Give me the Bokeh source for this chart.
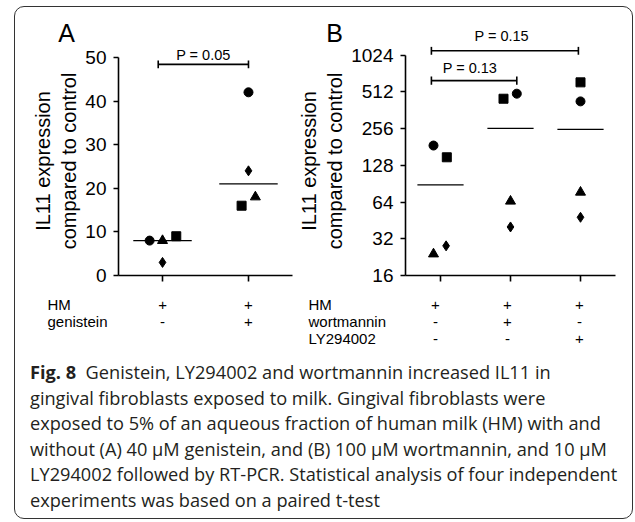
import numpy as np
from bokeh.plotting import figure
from bokeh.models import FixedTicker, NumeralTickFormatter, Div, Range1d, Spacer
from bokeh.layouts import row, column
from bokeh.core.properties import value
from bokeh.embed import file_html
from bokeh.resources import INLINE

# ---------------- data ----------------
# Panel A: IL11 expression (linear), groups: HM, HM + genistein
a_groups = [1, 2]
a_circle = [8, 42]
a_square = [9, 16]
a_triangle = [8, 18]
a_diamond = [3, 24]
a_yticks = [0, 10, 20, 30, 40, 50]
a_rows = ["HM", "genistein"]
a_signs = [["+", "+"], ["-", "+"]]
a_pvalue = "P = 0.05"

# Panel B: IL11 expression (log2), groups: HM, HM + wortmannin, HM + LY294002
b_groups = [1, 2, 3]
b_circle = [186, 495, 428]
b_square = [149, 450, 613]
b_triangle = [24, 65, 77]
b_diamond = [28, 40, 48]
b_yticks = [16, 32, 64, 128, 256, 512, 1024]
b_rows = ["HM", "wortmannin", "LY294002"]
b_signs = [["+", "+", "+"], ["-", "+", "-"], ["-", "-", "+"]]
b_pvalues = ["P = 0.13", "P = 0.15"]

caption_lines = [
    "Genistein, LY294002 and wortmannin increased IL11 in",
    "gingival fibroblasts exposed to milk. Gingival fibroblasts were",
    "exposed to 5% of an aqueous fraction of human milk (HM) with and",
    "without (A) 40 \u00b5M genistein, and (B) 100 \u00b5M wortmannin, and 10 \u00b5M",
    "LY294002 followed by RT-PCR. Statistical analysis of four independent",
    "experiments was based on a paired t-test",
]

# ---------------- style / layout ----------------
FONT = "Liberation Sans"
TICK_FS = "19px"
LABEL_FS = "20px"
ROW_FS = "15px"
P_FS = "14.5px"
MARKERS = [("circle", 9), ("square", 9), ("triangle", 10), ("diamond", 10)]
# horizontal jitter of the four experiments inside each group (group units)
A_JITTER = [[-0.15, 0.0], [0.16, -0.08], [0.0, 0.08], [0.0, 0.0]]
B_JITTER = [[-0.10, 0.09, 0.0], [0.09, -0.10, 0.0], [-0.10, 0.0, 0.0], [0.08, 0.0, 0.0]]

TOP_H = 39      # strip above the plot frame
MAIN_H = 251    # frame (229) + x-axis ticks (22)
BOT_H = 53      # strip with the treatment rows
MAIN_BOTTOM = 22


def clean(p):
    p.grid.visible = False
    p.outline_line_color = None
    p.border_fill_color = None
    p.background_fill_color = None


def style_axes(p):
    clean(p)
    for ax in (p.xaxis[0], p.yaxis[0]):
        ax.axis_line_width = 1.6
        ax.axis_line_color = "black"
        ax.major_tick_line_width = 1.6
        ax.major_tick_line_color = "black"
        ax.major_tick_out = 5
        ax.major_tick_in = 0
        ax.minor_tick_line_color = None
        ax.major_label_text_font = FONT
        ax.major_label_text_font_size = TICK_FS
        ax.major_label_text_color = "black"
        ax.axis_label_text_font = FONT
        ax.axis_label_text_font_size = LABEL_FS
        ax.axis_label_text_font_style = "normal"
        ax.axis_label_text_color = "black"
    p.xaxis.major_tick_out = 6
    p.xaxis.major_label_text_color = None
    p.xaxis.major_label_text_font_size = "8px"
    p.xaxis.major_label_standoff = 0
    p.yaxis.major_label_standoff = 7
    p.yaxis.axis_label_standoff = 2
    p.yaxis.axis_label = "IL11 expression\ncompared to control"


def strip(width, height, xr):
    s = figure(width=width, height=height, x_range=Range1d(*xr), y_range=Range1d(height, 0),
               output_backend="svg", toolbar_location=None, frame_align=False,
               x_axis_location=None, y_axis_location=None,
               min_border_left=0, min_border_right=0, min_border_top=0, min_border_bottom=0)
    clean(s)
    return s


def put_text(p, xs, ys, texts, size, align="center"):
    p.text(x=xs, y=ys, text=texts, text_font=value(FONT), text_font_size=value(size),
           text_align=align, text_baseline="middle", text_color="black")


def draw_points(p, values, groups, jitter):
    for (marker, size), vals, jit in zip(MARKERS, values, jitter):
        xs = [g + j for g, j in zip(groups, jit)]
        p.scatter(xs, vals, marker=marker, size=size, fill_color="black", line_color="black")
    return np.median(np.array(values, dtype=float), axis=0)


def bracket(p, x0, x1, y, cap_lo, cap_hi):
    p.segment(x0=[x0, x0, x1], y0=[y, cap_lo, cap_lo], x1=[x1, x0, x1], y1=[y, cap_hi, cap_hi],
              line_color="black", line_width=1.6)


def ext_range(xr, frame_w, left, right):
    u = (xr[1] - xr[0]) / frame_w
    return (xr[0] - left * u, xr[1] + right * u), u


# ---------------- Panel A ----------------
A_W, A_L, A_R = 279, 103, 2
A_XR = (0.488, 2.512)
A_YR = (0.0, 52.5)
mainA = figure(width=A_W, height=MAIN_H, x_range=Range1d(*A_XR), y_range=Range1d(*A_YR),
               output_backend="svg", toolbar_location=None, frame_align=False,
               min_border_left=A_L, min_border_right=A_R, min_border_top=0,
               min_border_bottom=MAIN_BOTTOM)
style_axes(mainA)
mainA.yaxis.ticker = FixedTicker(ticks=a_yticks)
mainA.yaxis.bounds = (a_yticks[0], a_yticks[-1])
mainA.xaxis.ticker = FixedTicker(ticks=a_groups)

medA = draw_points(mainA, [a_circle, a_square, a_triangle, a_diamond], a_groups, A_JITTER)
mainA.segment(x0=[g - 0.34 for g in a_groups], y0=medA, x1=[g + 0.34 for g in a_groups], y1=medA,
              line_color="black", line_width=1.3)
bracket(mainA, 0.95, 2.0, 48.4, 47.5, 49.3)
put_text(mainA, [1.475], [50.6], [a_pvalue], P_FS)

A_EXT, uA = ext_range(A_XR, A_W - A_L - A_R, A_L, A_R)
topA = strip(A_W, TOP_H, A_EXT)
put_text(topA, [A_XR[0] - 52 * uA], [25.5], ["A"], "25px")
botA = strip(A_W, BOT_H, A_EXT)
row_y = [7, 24, 41]
for r, name in enumerate(a_rows):
    put_text(botA, [A_XR[0] - 71 * uA], [row_y[r]], [name], ROW_FS, align="left")
    put_text(botA, a_groups, [row_y[r]] * len(a_groups), a_signs[r], ROW_FS)

# ---------------- Panel B ----------------
B_W, B_L, B_R = 338, 105, 17
B_XR = (0.5, 3.5)
B_YR = (16, 1206)
mainB = figure(width=B_W, height=MAIN_H, x_range=Range1d(*B_XR), y_range=Range1d(*B_YR),
               y_axis_type="log", output_backend="svg", toolbar_location=None, frame_align=False,
               min_border_left=B_L, min_border_right=B_R, min_border_top=0,
               min_border_bottom=MAIN_BOTTOM)
style_axes(mainB)
mainB.yaxis.ticker = FixedTicker(ticks=b_yticks)
mainB.yaxis.formatter = NumeralTickFormatter(format="0")
mainB.yaxis.bounds = (b_yticks[0], b_yticks[-1])
mainB.xaxis.ticker = FixedTicker(ticks=b_groups)

medB = draw_points(mainB, [b_circle, b_square, b_triangle, b_diamond], b_groups, B_JITTER)
mainB.segment(x0=[g - 0.33 for g in b_groups], y0=medB, x1=[g + 0.33 for g in b_groups], y1=medB,
              line_color="black", line_width=1.3)
cap = 2 ** 0.11
bracket(mainB, 0.87, 2.09, 633, 633 / cap, 633 * cap)
bracket(mainB, 0.87, 2.97, 1113, 1113 / cap, 1113 * cap)
put_text(mainB, [1.42], [804], [b_pvalues[0]], P_FS)

B_EXT, uB = ext_range(B_XR, B_W - B_L - B_R, B_L, B_R)
topB = strip(B_W, TOP_H, B_EXT)
put_text(topB, [B_XR[0] - 65 * uB], [25.5], ["B"], "25px")
put_text(topB, [1.92], [28], [b_pvalues[1]], P_FS)
botB = strip(B_W, BOT_H, B_EXT)
for r, name in enumerate(b_rows):
    put_text(botB, [B_XR[0] - 91 * uB], [row_y[r]], [name], ROW_FS, align="left")
    put_text(botB, b_groups, [row_y[r]] * len(b_groups), b_signs[r], ROW_FS)

# ---------------- caption ----------------
cap_html = ('<div style="margin:10px 0 0 15px; white-space:nowrap; font-family:\'Open Sans\', sans-serif; '
            'font-size:18.2px; line-height:25.6px; color:#231f20;">'
            '<b>Fig. 8</b>&nbsp; ' + "<br>".join(caption_lines) + '</div>')
caption = Div(text=cap_html, width=617, height=168, margin=(0, 0, 0, 0))

panelA = column(topA, mainA, botA)
panelB = column(topB, mainB, botB)
framed = column(row(panelA, panelB), caption,
                styles={"border": "1.3px solid #333", "border-radius": "10px"})
layout = column(Spacer(height=6), row(Spacer(width=14), framed))

open("out.html", "w").write(file_html(layout, INLINE))
